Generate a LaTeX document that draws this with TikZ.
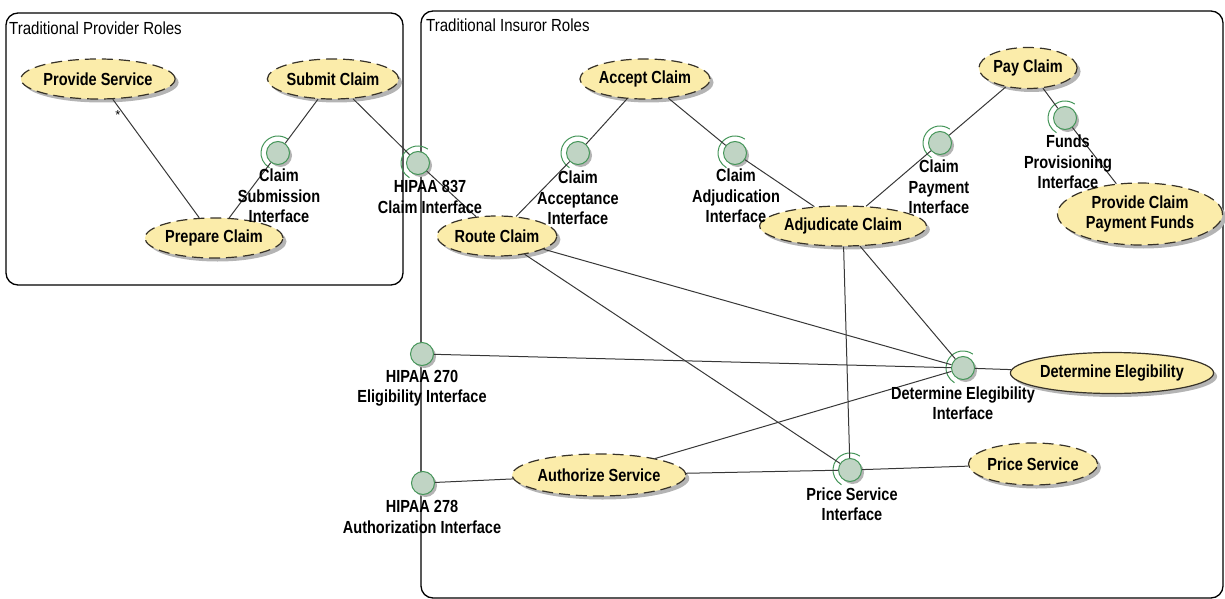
\documentclass[tikz,border=0pt]{standalone}
\usepackage{fontspec}
\setmainfont{Liberation Sans}
\newfontfamily\lab[FakeStretch=0.83]{Liberation Sans}
\newfontfamily\labt[FakeStretch=0.86]{Liberation Sans}
\usetikzlibrary{shapes.geometric,shadows}
\definecolor{ucfill}{RGB}{251,236,170}
\definecolor{ucdraw}{RGB}{55,50,40}
\definecolor{iffill}{RGB}{192,212,196}
\definecolor{ifdraw}{RGB}{70,150,90}
\definecolor{shad}{RGB}{180,180,180}
\definecolor{conn}{RGB}{55,55,55}
\tikzset{
  uc/.style={ellipse, fill=ucfill, draw=ucdraw, line width=1.2pt, dash pattern=on 11pt off 6pt,
    inner sep=0pt, align=center, font=\lab\bfseries\fontsize{17.5}{20}\selectfont,
    drop shadow={shadow xshift=3.5pt, shadow yshift=-3.5pt, fill=shad, opacity=1}},
  ucsolid/.style={uc, solid},
  iface/.style={circle, fill=iffill, draw=ifdraw, line width=1pt, minimum size=23pt, inner sep=0pt,
    drop shadow={shadow xshift=2.5pt, shadow yshift=-2.5pt, fill=shad, opacity=1}},
  iflab/.style={align=center, inner sep=0pt, font=\lab\bfseries\fontsize{17.5}{20.5}\selectfont},
  conline/.style={draw=conn, line width=1pt},
  frame/.style={draw=black, line width=1.3pt, rounded corners=12pt},
  ftitle/.style={anchor=west, inner sep=0pt, font=\labt\fontsize{17.5}{19}\selectfont},
  sock/.style={draw=ifdraw, line width=1pt}
}
\newcommand{\socketarc}[1]{\draw[sock] ([shift={(55:17pt)}]#1.center) arc[start angle=55, end angle=240, radius=17pt];}
\begin{document}
\begin{tikzpicture}[x=1pt,y=-1pt]
\useasboundingbox (0,0) rectangle (1225,599);
% frames
\draw[frame] (6,13) rectangle (403,285);
\draw[frame] (421,11) rectangle (1223,598);
\node[ftitle] (t1) at (9,28) {Traditional Provider Roles};
\node[ftitle] (t2) at (426,25) {Traditional Insuror Roles};

% interfaces
\node[iface] (csi) at (278,153) {};
\node[iface] (h837) at (418,163) {};
\node[iface] (cai) at (578,153) {};
\node[iface] (cdi) at (735,153) {};
\node[iface] (cpi) at (940,143) {};
\node[iface] (fpi) at (1065,118) {};
\node[iface] (h270) at (422,354) {};
\node[iface] (h278) at (423,483) {};
\node[iface] (dei) at (963,368) {};
\node[iface] (psi) at (850,470) {};
\socketarc{csi}
\socketarc{h837}
\socketarc{cai}
\socketarc{cdi}
\socketarc{cpi}
\socketarc{fpi}
\socketarc{dei}
\socketarc{psi}

% use cases
\node[uc, minimum width=147pt, minimum height=40pt] (ps) at (98,79) {Provide Service};
\node[uc, minimum width=126pt, minimum height=40pt] (sc) at (333,79) {Submit Claim};
\node[uc, minimum width=132pt, minimum height=40pt] (pc) at (214,238) {Prepare Claim};
\node[uc, minimum width=125pt, minimum height=40pt] (ac) at (645,79) {Accept Claim};
\node[uc, minimum width=115pt, minimum height=40pt] (rc) at (497,236) {Route Claim};
\node[uc, minimum width=92pt, minimum height=41pt] (pay) at (1028,68) {Pay Claim};
\node[uc, minimum width=165pt, minimum height=62pt] (pcpf) at (1140,214) {Provide Claim\\Payment Funds};
\node[uc, minimum width=158pt, minimum height=40pt] (adj) at (843,226) {Adjudicate Claim};
\node[ucsolid, minimum width=190pt, minimum height=41pt] (de) at (1112,373) {Determine Elegibility};
\node[uc, minimum width=124pt, minimum height=42pt] (prs) at (1033,464) {Price Service};
\node[uc, minimum width=166pt, minimum height=42pt] (as) at (599,475) {Authorize Service};

% connectors
\draw[conline] (ps) -- node[pos=0.13, left=2pt, font=\fontsize{13}{13}\selectfont, inner sep=1pt] (star) {*} (pc);
\draw[conline] (sc) -- (csi);
\draw[conline] (csi) -- (pc);
\draw[conline] (sc) -- (h837);
\draw[conline] (h837) -- (rc);
\draw[conline] (ac) -- (cai);
\draw[conline] (cai) -- (rc);
\draw[conline] (ac) -- (cdi);
\draw[conline] (cdi) -- (adj);
\draw[conline] (pay) -- (cpi);
\draw[conline] (cpi) -- (adj);
\draw[conline] (pay) -- (fpi);
\draw[conline] (fpi) -- (pcpf);
\draw[conline] (rc) -- (dei);
\draw[conline] (rc) -- (psi);
\draw[conline] (adj) -- (psi);
\draw[conline] (adj) -- (dei);
\draw[conline] (h270) -- (dei);
\draw[conline] (as) -- (dei);
\draw[conline] (as) -- (psi);
\draw[conline] (h278) -- (as);
\draw[conline] (psi) -- (prs);
\draw[conline] (dei) -- (de);

% interface labels
\node[iflab] (lcsi) at (279,196) {Claim\\Submission\\Interface};
\node[iflab] (lh837) at (430,197) {HIPAA 837\\Claim Interface};
\node[iflab] (lcai) at (578,198) {Claim\\Acceptance\\Interface};
\node[iflab] (lcdi) at (736,196) {Claim\\Adjudication\\Interface};
\node[iflab] (lcpi) at (939,187) {Claim\\Payment\\Interface};
\node[iflab] (lfpi) at (1068,162) {Funds\\Provisioning\\Interface};
\node[iflab] (lh270) at (422,388) {HIPAA 270\\Eligibility Interface};
\node[iflab] (lh278) at (422,517) {HIPAA 278\\Authorization Interface};
\node[iflab] (ldei) at (963,403) {Determine Elegibility\\Interface};
\node[iflab] (lpsi) at (852,504) {Price Service\\Interface};
\end{tikzpicture}
\end{document}
